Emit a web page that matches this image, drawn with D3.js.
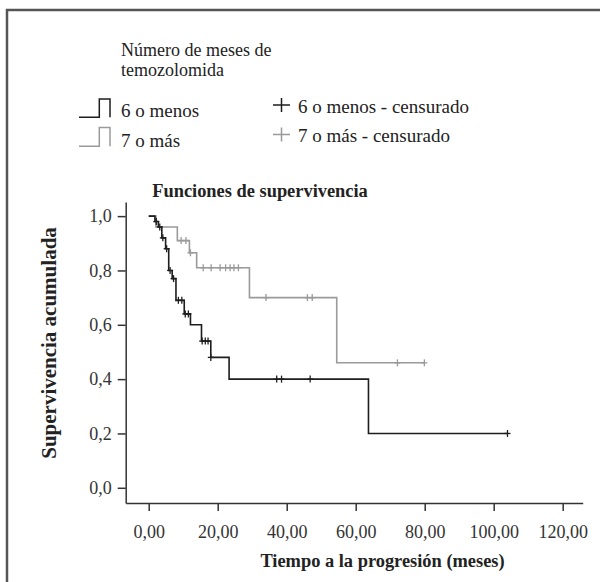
<!DOCTYPE html>
<html lang="es">
<head>
<meta charset="UTF-8">
<title>Funciones de supervivencia</title>
<style>
    body { margin: 0; background: #fff; }
    svg { display: block; font-family: "Liberation Serif", "Times New Roman", serif; }
    .tick text { font-family: "Liberation Serif", serif; font-size: 18px; fill: #333; }
    .domain, .tick line { stroke: #333; stroke-width: 1.5px; }
    .lbl { fill: #222; font-size: 19px; }
    .bold { font-weight: bold; font-size: 18.4px; }
</style>
</head>
<body>
<div id="chart"></div>
<script src="https://cdn.jsdelivr.net/npm/d3@7"></script>
<script>
    // Kaplan-Meier steps: time of each drop and survival after it
    const groups = ["6 o menos", "7 o más"];

    const menosDropTimes = [1.8, 2.8, 3.8, 4.9, 5.8, 6.8, 7.9, 10.3, 12.1, 15.3, 18.0, 23.3, 63.7];
    const menosDropValues = [0.98, 0.96, 0.92, 0.88, 0.80, 0.77, 0.69, 0.64, 0.60, 0.54, 0.48, 0.40, 0.20];
    const menosEnd = 104;
    const menosCensored = [2.2, 3.2, 4.1, 5.2, 6.2, 7.2, 8.6, 9.6, 10.6, 11.5, 15.5, 16.4, 17.2, 18.0, 37.1, 38.5, 46.8, 104];

    const masDropTimes = [2.1, 8.3, 11.8, 13.9, 29.2, 54.5];
    const masDropValues = [0.96, 0.91, 0.865, 0.81, 0.70, 0.46];
    const masEnd = 79.9;
    const masCensored = [9.4, 10.8, 12.1, 15.8, 18.1, 20.7, 22.3, 23.6, 24.7, 26.0, 34.0, 46.0, 47.4, 72.1, 79.9];

    const xTicks = [0, 20, 40, 60, 80, 100, 120];
    const yTicks = [0, 0.2, 0.4, 0.6, 0.8, 1.0];

    const colors = { "6 o menos": "#1e1e1e", "7 o más": "#9a9a9a" };

    const W = 600, H = 582;
    const svg = d3.select("#chart").append("svg").attr("width", W).attr("height", H);

    // outer frame (open to the right and bottom)
    svg.append("path")
        .attr("d", `M7,${H + 5} L7,10 L${W + 5},10`)
        .attr("fill", "none").attr("stroke", "#555").attr("stroke-width", 2.5);

    const x = d3.scaleLinear().domain([-6.67, 125.8]).range([125.7, 582.7]);
    const y = d3.scaleLinear().domain([-0.056, 1.052]).range([503, 202]);

    const loc = d3.formatLocale({ decimal: ",", thousands: ".", grouping: [3], currency: ["", "€"] });

    svg.append("g")
        .attr("transform", "translate(0,503)")
        .call(d3.axisBottom(x).tickValues(xTicks).tickFormat(loc.format(".2f")).tickSize(8).tickSizeOuter(0).tickPadding(14));

    svg.append("g")
        .attr("transform", "translate(125.7,0)")
        .call(d3.axisLeft(y).tickValues(yTicks).tickFormat(loc.format(".1f")).tickSize(8).tickSizeOuter(0).tickPadding(6));

    function stepValue(times, values, t) {
        let v = 1;
        times.forEach((tt, i) => { if (tt <= t) v = values[i]; });
        return v;
    }

    const series = [
        { name: groups[0], times: menosDropTimes, values: menosDropValues, end: menosEnd, cens: menosCensored },
        { name: groups[1], times: masDropTimes, values: masDropValues, end: masEnd, cens: masCensored }
    ];

    const line = d3.line().x(d => x(d[0])).y(d => y(d[1])).curve(d3.curveStepAfter);

    // draw gray first so black sits on top
    series.slice().reverse().forEach(s => {
        const pts = [[0, 1]].concat(s.times.map((t, i) => [t, s.values[i]]));
        pts.push([s.end, s.values[s.values.length - 1]]);
        svg.append("path")
            .datum(pts)
            .attr("fill", "none")
            .attr("stroke", colors[s.name])
            .attr("stroke-width", 1.6)
            .attr("d", line);

        const g = svg.append("g").attr("stroke", colors[s.name]).attr("stroke-width", 1.3);
        s.cens.forEach(t => {
            const cx = x(t), cy = y(stepValue(s.times, s.values, t));
            g.append("line").attr("x1", cx - 3).attr("x2", cx + 3).attr("y1", cy).attr("y2", cy);
            g.append("line").attr("x1", cx).attr("x2", cx).attr("y1", cy - 3.5).attr("y2", cy + 3.5);
        });
    });

    // titles
    svg.append("text").attr("class", "lbl bold")
        .attr("x", 260).attr("y", 197).attr("text-anchor", "middle")
        .text("Funciones de supervivencia");

    svg.append("text").attr("class", "lbl bold")
        .attr("transform", "translate(56,343) rotate(-90)").attr("text-anchor", "middle")
        .style("font-size", "21px")
        .text("Supervivencia acumulada");

    svg.append("text").attr("class", "lbl bold")
        .attr("x", 382.5).attr("y", 566.5).attr("text-anchor", "middle")
        .text("Tiempo a la progresión (meses)");

    // legend
    svg.append("text").attr("class", "lbl").attr("x", 121).attr("y", 56).style("font-size", "18px").text("Número de meses de");
    svg.append("text").attr("class", "lbl").attr("x", 121).attr("y", 76).style("font-size", "18px").text("temozolomida");

    groups.forEach((name, i) => {
        const by = 117.3 + i * 29, ty = 99 + i * 28.5;
        svg.append("path")
            .attr("d", `M79,${by} L99.3,${by} L99.3,${ty} L110,${ty} L110,${by}`)
            .attr("fill", "none").attr("stroke", colors[name]).attr("stroke-width", 1.5);
        svg.append("text").attr("class", "lbl").attr("x", 121).attr("y", 117 + i * 30).text(name);

        const cy = 105 + i * 29.5;
        svg.append("path")
            .attr("d", `M273,${cy} L290,${cy} M281.5,${cy - 7} L281.5,${cy + 7}`)
            .attr("stroke", colors[name]).attr("stroke-width", 1.5);
        svg.append("text").attr("class", "lbl").attr("x", 298).attr("y", 113 + i * 29).text(name + " - censurado");
    });
</script>
</body>
</html>
